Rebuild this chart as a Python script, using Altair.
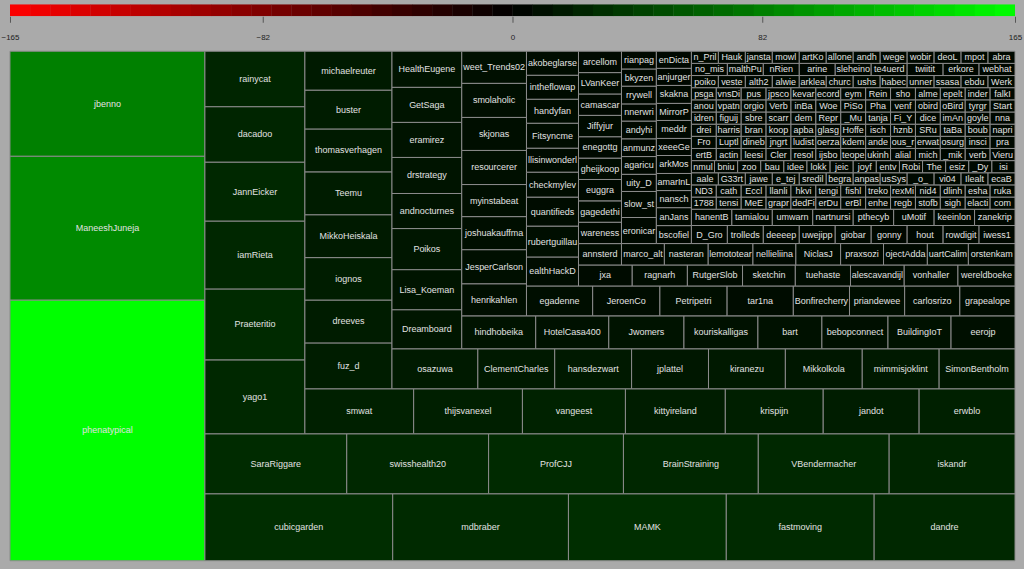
import altair as alt
import pandas as pd

# ---------------- data ----------------
bar_ticks = [-165, -82, 0, 82, 165]

# Each strip of the treemap: "col" strips are filled bottom -> top,
# "row" strips left -> right, in the order in which they were laid out.
col1_names = ["phenatypical", "ManeeshJuneja", "jbenno"]
col1_size = [5090, 2808, 2048]
col1_chg = [165, 89, 83]

row1_names = ["cubicgarden", "mdbraber", "MAMK", "fastmoving", "dandre"]
row1_size = [1260, 1179, 1059, 992, 945]
row1_chg = [29, 27, 30, 27, 26]

row2_names = ["SaraRiggare", "swisshealth20", "ProfCJJ", "BrainStraining", "VBendermacher", "iskandr"]
row2_size = [852, 852, 810, 810, 786, 756]
row2_chg = [28, 26, 27, 25, 26, 24]

col2_names = ["yago1", "Praeteritio", "iamRieta", "JannEicker", "dacadoo", "rainycat"]
col2_size = [740, 710, 680, 590, 555, 555]
col2_chg = [26, 27, 25, 26, 24, 24]

row3_names = ["smwat", "thijsvanexel", "vangeest", "kittyireland", "krispijn", "jandot", "erwblo"]
row3_size = [490, 490, 464, 450, 441, 432, 432]
row3_chg = [21, 20, 22, 19, 20, 19, 21]

col3_names = ["fuz_d", "dreeves", "iognos", "MikkoHeiskala", "Teemu", "thomasverhagen", "buster", "michaelreuter"]
col3_size = [400, 374, 370, 374, 374, 374, 339, 339]
col3_chg = [19, 18, 19, 17, 18, 17, 18, 17]

row4_names = ["osazuwa", "ClementCharles", "hansdezwart", "jplattel", "kiranezu", "Mikkolkola", "mimmisjoklint", "SimonBentholm"]
row4_size = [344, 308, 308, 308, 308, 308, 308, 304]
row4_chg = [17, 16, 16, 15, 16, 15, 16, 15]

col4_names = ["Dreamboard", "Lisa_Koeman", "Poikos", "andnocturnes", "drstrategy", "eramirez", "GetSaga", "HealthEugene"]
col4_size = [273, 280, 287, 245, 252, 245, 245, 252]
col4_chg = [14, 13, 14, 12, 13, 12, 13, 12]

row5_names = ["hindhobeika", "HotelCasa400", "Jwomers", "kouriskalligas", "bart", "bebopconnect", "BuildingIoT", "eerojp"]
row5_size = [244, 241, 248, 244, 211, 218, 208, 211]
row5_chg = [12, 11, 12, 11, 11, 10, 11, 10]

col5_names = ["henrikahlen", "JesperCarlson", "joshuakauffman", "myinstabeat", "resourcerer", "skjonas", "smolaholic", "weet_Trends02"]
col5_size = [208, 221, 214, 208, 221, 214, 221, 208]
col5_chg = [9, 10, 9, 9, 10, 9, 9, 10]

row6_names = ["egadenne", "JeroenCo", "Petripetri", "tar1na", "Bonfirecherry", "priandeweese", "carlosrizo", "grapealope"]
row6_size = [198, 201, 201, 198, 168, 165, 165, 165]
row6_chg = [9, 8, 9, 8, 8, 9, 8, 8]

col6_names = ["ealthHackDa", "rubertguillau", "quantifiedsel", "checkmyleve", "llisinwonderl", "Fitsyncme", "handyfan", "intheflowapp", "akobeglarse"]
col6_size = [151, 161, 151, 130, 125, 130, 125, 125, 125]
col6_chg = [8, 9, 8, 8, 7, 8, 8, 7, 8]

row7_names = ["jxa", "ragnarh", "RutgerSlob", "sketchin", "tuehaste", "alescavandijl", "vonhaller", "wereldboeken"]
row7_size = [113, 116, 116, 111, 116, 113, 113, 120]
row7_chg = [7, 8, 7, 7, 8, 7, 7, 8]

col7_names = ["annsterdam", "wareness", "gagedethi", "euggra", "gheijkoop", "enegottger", "Jiffyjur", "camascar", "LVanKeer", "arcellomer"]
col7_size = [92, 92, 92, 92, 92, 92, 92, 92, 92, 92]
col7_chg = [7, 6, 7, 6, 7, 6, 7, 6, 7, 6]

row8_names = ["marco_alt", "nasteranza", "lemototear", "nellieliina", "NiclasJ", "praxsozi", "ojectAdda", "uartCalim", "orstenkamp"]
row8_size = [92, 94, 96, 92, 96, 92, 94, 88, 100]
row8_chg = [6, 7, 6, 6, 7, 6, 6, 7, 6]

col8_names = ["eronicar", "slow_str", "uity_Des", "agaricus", "anmunz", "andyhick", "nnerwrig", "rrywellm", "bkyzen", "rianpaga"]
col8_size = [91, 91, 60, 62, 62, 62, 60, 62, 60, 62]
col8_chg = [6, 6, 5, 6, 5, 6, 5, 6, 5, 6]

col9_names = ["bscofield", "anJanss", "nanscha", "amarInL", "arkMosc", "xeeeGe", "meddr", "MirrorP", "skaknap", "anjurger", "enDicta"]
col9_size = [63, 63, 60, 60, 63, 60, 63, 60, 63, 60, 60]
col9_chg = [5, 6, 5, 6, 5, 5, 6, 5, 6, 5, 5]

row9_names = ["D_Gronim", "trolleds", "deeeep", "uwejippor", "giobar", "gonny", "hout", "rowdigit", "iwess1"]
row9_size = [65, 65, 65, 65, 65, 65, 65, 65, 65]
row9_chg = [5, 6, 5, 5, 6, 5, 5, 6, 5]

row10_names = ["hanentBe", "tamialouni", "umwarnaa", "nartnursin", "pthecybor", "uMotif", "keeinlon", "zanekripe"]
row10_size = [66, 66, 66, 66, 66, 66, 66, 66]
row10_chg = [5, 5, 6, 5, 5, 6, 5, 5]

# the many tiny cells in the upper right corner, one list per visible line (top line first)
tiny_rows = [
    ["n_Pril", "Haukk", "jansta", "mowl", "artKo", "allone", "andhott", "wege", "wobird", "deoLo", "mpoter", "abranobs"],
    ["no_mise", "malthPu", "nRien", "arine", "sleheino", "te4uerdotc", "twiitit", "erkore", "webhat"],
    ["poikoli", "veste", "alth2A", "alwie", "arklea", "church", "ushs", "habec", "unner", "ssasa", "ebduni", "Werk_ype"],
    ["psgarjo", "vnsDi", "pusMr", "jpsco", "kevar", "ecord", "eymae", "Reinie", "showc", "alment", "epelt", "inder", "falkInt"],
    ["anousl", "vpatn", "orgiop", "Verbere", "inBa", "Woens", "PiSo", "Pha_pa", "venfas", "obirds", "oBird", "tyrgr", "StartU"],
    ["idrenank", "figuij", "sbrem", "scarr", "demod", "Repr", "_Mu", "tanja7", "Fi_Y", "diceSp", "imAn", "goyle", "nnaTir"],
    ["dreimp", "harris", "brand", "koop", "apbako", "glasg", "Hoffe", "ischair", "hznb", "SRuhn", "taBah", "boub", "napri"],
    ["FromnA", "Luptl", "dineb", "jngrt", "ludist", "oerza", "kdem", "anderi", "ous_r", "erwat", "osurg", "inscie", "pramar"],
    ["ertBos", "acting", "leesin", "Clerm", "resolu", "ijsboo", "teope", "ukinh", "alialab", "michlr", "_mike", "verbrup", "Vieru"],
    ["nmul", "bniuga", "zoom", "baugf", "ideek", "lokken", "jeic", "joyfar", "entv", "Robins", "TheBf", "esizen", "_Dyon", "isi"],
    ["aalemoud", "G33rt", "jawegh", "e_tejas", "sredil", "begra", "anpas", "usSys", "_o_ma", "vi04", "Ilealt", "ecaBa"],
    ["ND3R", "cathal", "Eccler", "llanli", "hkviss", "tengire", "fishl", "trekoe", "rexMi", "nid4si", "dlinhe", "eshaq", "rukam"],
    ["1788_", "tensio", "MeEvo", "grapr", "dedFi", "erDudl", "erBl", "enheu", "regbri", "stofbu", "sighat", "elacti", "comm"],
]
tiny_size = [32.8, 43.8, 32.8, 30.3, 30.3, 30.3, 30.3, 30.3, 30.3, 28.1, 32.8, 30.3, 30.3]
tiny_chg = [6, 5, 6, 5, 6, 5, 5, 6, 5, 5, 6, 5, 5]

strips = [
    ("col", col1_names, col1_size, col1_chg), ("row", row1_names, row1_size, row1_chg),
    ("row", row2_names, row2_size, row2_chg), ("col", col2_names, col2_size, col2_chg),
    ("row", row3_names, row3_size, row3_chg), ("col", col3_names, col3_size, col3_chg),
    ("row", row4_names, row4_size, row4_chg), ("col", col4_names, col4_size, col4_chg),
    ("row", row5_names, row5_size, row5_chg), ("col", col5_names, col5_size, col5_chg),
    ("row", row6_names, row6_size, row6_chg), ("col", col6_names, col6_size, col6_chg),
    ("row", row7_names, row7_size, row7_chg), ("col", col7_names, col7_size, col7_chg),
    ("row", row8_names, row8_size, row8_chg), ("col", col8_names, col8_size, col8_chg),
    ("col", col9_names, col9_size, col9_chg), ("row", row9_names, row9_size, row9_chg),
    ("row", row10_names, row10_size, row10_chg),
]
# tiny lines are stacked from the bottom line upwards
for nm, sz, ch in reversed(list(zip(tiny_rows, tiny_size, tiny_chg))):
    strips.append(("row", nm, [sz] * len(nm), [ch] * len(nm)))

# ---------------- strip treemap layout (computed from the sizes) ----------------
PW, PH = 1006, 510


def strip_layout(strips, W, H):
    tot = float(sum(sum(s[2]) for s in strips))
    k = W * H / tot
    x, y, w, h = 0.0, 0.0, float(W), float(H)
    recs = []
    for orient, nm, sz, ch in strips:
        areas = [v * k for v in sz]
        S = sum(areas)
        if orient == "col":
            t = S / h
            pos = y
            for n_, v, c, a in zip(nm, sz, ch, areas):
                l = a / t
                recs.append((n_, v, c, x, x + t, pos, pos + l))
                pos += l
            x += t
            w -= t
        else:
            t = S / w
            pos = x
            for n_, v, c, a in zip(nm, sz, ch, areas):
                l = a / t
                recs.append((n_, v, c, pos, pos + l, y, y + t))
                pos += l
            y += t
            h -= t
    return recs


df = pd.DataFrame(strip_layout(strips, PW, PH),
                  columns=["name", "size", "chg", "x0", "x1", "y0", "y1"])
df["xc"] = (df.x0 + df.x1) / 2
df["yc"] = (df.y0 + df.y1) / 2
df["lim"] = (df.x1 - df.x0 - 2).clip(lower=1)

color_scale = alt.Scale(domain=[-165, 0, 165], range=["#ff0000", "#000000", "#00ff00"], interpolate="rgb")
xs = alt.Scale(domain=[0, PW], nice=False, zero=False)
ys = alt.Scale(domain=[0, PH], nice=False, zero=False)

base = alt.Chart(df)
cells = base.mark_rect(stroke="#8c8c8c", strokeWidth=1).encode(
    x=alt.X("x0:Q", scale=xs, axis=None),
    x2="x1:Q",
    y=alt.Y("y0:Q", scale=ys, axis=None),
    y2="y1:Q",
    color=alt.Color("chg:Q", scale=color_scale, legend=None),
    tooltip=["name:N", "size:Q", "chg:Q"],
)
labels = base.mark_text(
    font="Liberation Sans", fontSize=9, color="#e2e2e2", ellipsis=" ",
    limit=alt.ExprRef(expr="datum.lim"), baseline="middle", align="center",
).encode(
    x=alt.X("xc:Q", scale=xs, axis=None),
    y=alt.Y("yc:Q", scale=ys, axis=None),
    text="name:N",
)
treemap = alt.layer(cells, labels).properties(width=PW, height=PH)

bar = alt.Chart(alt.sequence(-165, 164.9, 6.6, as_="v")).transform_calculate(
    v2="datum.v + 6.7", vm="datum.v + 3.3"
).mark_rect(clip=True).encode(
    x=alt.X("v:Q", scale=alt.Scale(domain=[-165, 165], nice=False, zero=False),
            axis=alt.Axis(values=bar_ticks, title=None, grid=False, domain=False,
                          tickSize=6, tickColor="#555555", labelFontSize=8, labelFlush=False,
                          labelColor="#222222", labelPadding=11, labelFont="Liberation Sans")),
    x2="v2:Q",
    color=alt.Color("vm:Q", scale=color_scale, legend=None),
).properties(width=PW, height=12)

chart = alt.vconcat(bar, treemap, spacing=9).properties(
    padding={"left": 0, "top": 4, "right": 2, "bottom": 9},
    background="#aaaaaa",
).configure_view(stroke=None)

chart.save("out.html", embed_options={"renderer": "svg", "actions": False})
